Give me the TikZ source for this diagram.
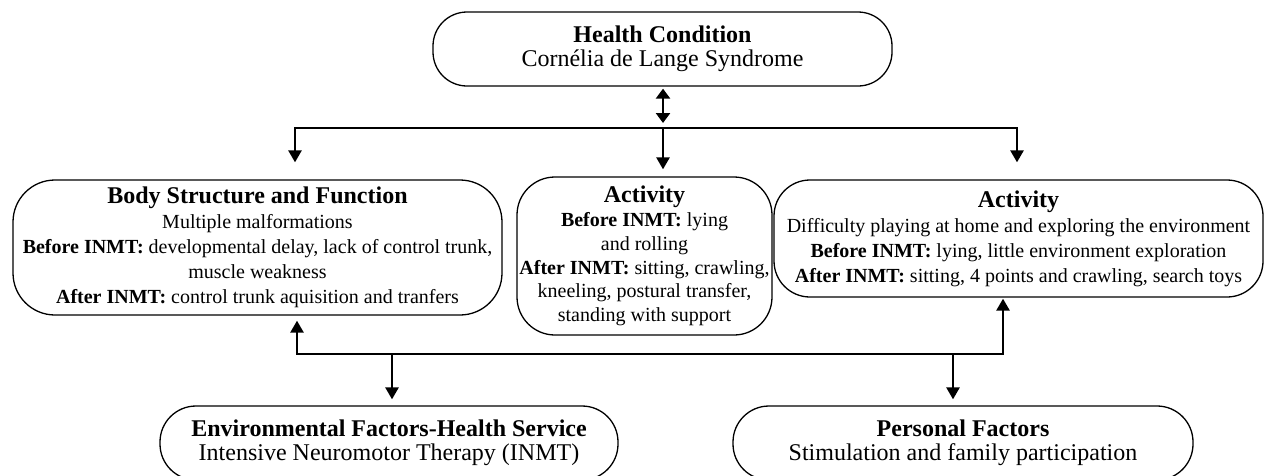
\documentclass[tikz,border=0pt]{standalone}
\usepackage{fontspec}
\setmainfont{Liberation Serif}
\usetikzlibrary{arrows.meta}
\newcommand\boxtitle[1]{{\fontsize{24}{25}\selectfont\bfseries #1}}
\begin{document}
\begin{tikzpicture}[x=1pt,y=-1pt,
  box/.style={draw, line width=1.3pt, rounded corners=#1, align=center, inner sep=0pt,
    font=\fontsize{20}{25}\selectfont},
  box/.default=36pt,
  big/.style={font=\fontsize{24}{24.5}\selectfont},
  conn/.style={line width=2.6pt, line join=miter},
  tip/.style={-{Triangle[length=12pt,width=13pt]}},
  tips/.style={{Triangle[length=12pt,width=13pt]}-{Triangle[length=12pt,width=13pt]}},
  dtips/.style={{Triangle[length=10pt,width=14pt]}-{Triangle[length=10pt,width=14pt]}}
]
\useasboundingbox (0,0) rectangle (1265,475);

\node[box=34pt, big, minimum width=459pt, minimum height=74pt] (hc) at (662.5,49)
  {\textbf{Health Condition}\\ Cornélia de Lange Syndrome};

\node[box=42pt, minimum width=489pt, minimum height=135pt] (bsf) at (257.5,247.5)
  {\boxtitle{Body Structure and Function}\\ Multiple malformations\\
   \textbf{Before INMT:} developmental delay, lack of control trunk,\\
   muscle weakness\\ \textbf{After INMT:} control trunk aquisition and tranfers};

\node[box=38pt, minimum width=255pt, minimum height=158pt, font=\fontsize{20}{23.7}\selectfont] (act1) at (644.5,256)
  {\boxtitle{Activity}\\ \textbf{Before INMT:} lying\\ and rolling\\
   \textbf{After INMT:} sitting, crawling,\\ kneeling, postural transfer,\\ standing with support};

\node[box=36pt, minimum width=489pt, minimum height=117pt] (act2) at (1018.5,238.5)
  {\boxtitle{Activity}\\ Difficulty playing at home and exploring the environment\\
   \textbf{Before INMT:} lying, little environment exploration\\
   \textbf{After INMT:} sitting, 4 points and crawling, search toys};

\node[box=36pt, big, minimum width=458pt, minimum height=74pt] (env) at (389,443)
  {\textbf{Environmental Factors-Health Service}\\ Intensive Neuromotor Therapy (INMT)};

\node[box=36pt, big, minimum width=460pt, minimum height=74pt] (pf) at (963,443)
  {\textbf{Personal Factors}\\ Stimulation and family participation};

% top connectors
\coordinate (dm) at (663,123);
\coordinate (tl) at (295,128);
\coordinate (tm) at (663,128);
\coordinate (tr) at (1017,128);
\draw[conn, dtips, shorten <=2pt] (hc.south -| dm) -- (dm);
\draw[conn, tips, shorten <=17pt, shorten >=17pt] (bsf.north -| tl) -- (tl) -- (tr) -- (act2.north -| tr);
\draw[conn, tip, shorten >=7pt] (tm) -- (act1.north -| tm);

% bottom connectors
\coordinate (bl) at (297,354);
\coordinate (br) at (1003,354);
\coordinate (be) at (392,354);
\coordinate (bp) at (953,354);
\draw[conn, tips, shorten <=5pt, shorten >=1pt] (bsf.south -| bl) -- (bl) -- (br) -- (act2.south -| br);
\draw[conn, tip, shorten >=6pt] (be) -- (env.north -| be);
\draw[conn, tip, shorten >=6pt] (bp) -- (pf.north -| bp);
\end{tikzpicture}
\end{document}
